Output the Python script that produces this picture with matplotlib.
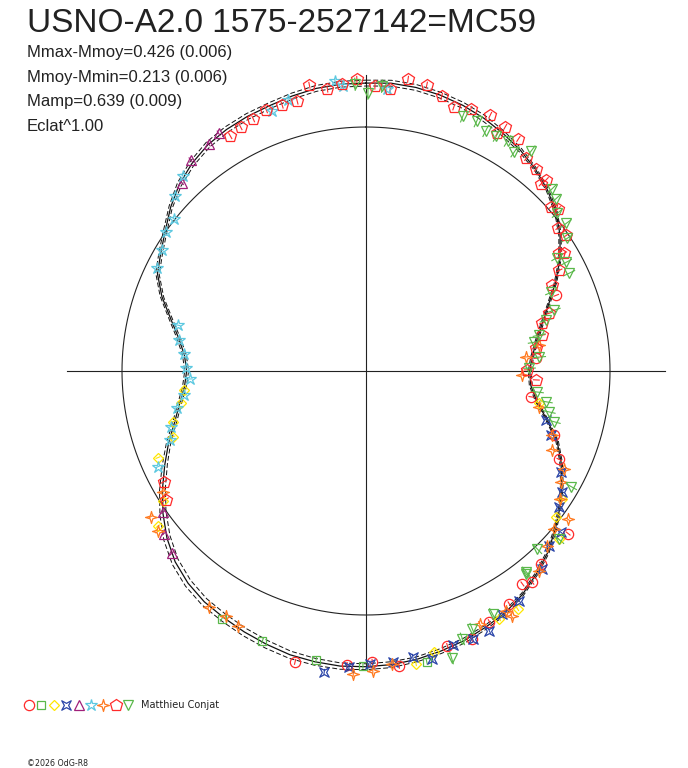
import numpy as np
import matplotlib
matplotlib.use("Agg")
import matplotlib.pyplot as plt
from matplotlib.path import Path

# ---------------- data ----------------
title = "USNO-A2.0 1575-2527142=MC59"
stats = ["Mmax-Mmoy=0.426 (0.006)", "Mmoy-Mmin=0.213 (0.006)",
         "Mamp=0.639 (0.009)", "Eclat^1.00"]
observer = "Matthieu Conjat"
footer = "\u00a92026 OdG-R8"

# fitted curve: phase (deg, clockwise from top) and relative brightness
curve_phase = list(range(0, 360, 5))
curve_flux = [1.180, 1.184, 1.180, 1.171, 1.159, 1.143, 1.124, 1.104, 1.080, 1.051,
              1.016, 0.971, 0.918, 0.857, 0.796, 0.747, 0.710, 0.684, 0.671, 0.678,
              0.710, 0.767, 0.833, 0.882, 0.927, 0.971, 1.012, 1.053, 1.086, 1.118,
              1.143, 1.159, 1.176, 1.188, 1.200, 1.208, 1.212, 1.214, 1.210, 1.204,
              1.192, 1.180, 1.167, 1.155, 1.135, 1.106, 1.065, 1.016, 0.963, 0.910,
              0.861, 0.812, 0.776, 0.747, 0.735, 0.747, 0.780, 0.829, 0.890, 0.943,
              0.971, 1.004, 1.045, 1.082, 1.110, 1.131, 1.143, 1.151, 1.157, 1.167,
              1.176, 1.180]
curve_err = [0.012, 0.012, 0.012, 0.012, 0.012, 0.012, 0.010, 0.008,
             0.006, 0.006, 0.006, 0.006, 0.006, 0.006, 0.006, 0.006, 0.006, 0.006,
             0.006, 0.006, 0.006, 0.006, 0.006, 0.006, 0.006, 0.006, 0.006, 0.006,
             0.006, 0.006,
             0.008, 0.008, 0.010, 0.010, 0.010, 0.012,
             0.012, 0.013, 0.014, 0.015, 0.016, 0.016, 0.016, 0.016, 0.016, 0.016,
             0.016, 0.015,
             0.014, 0.012, 0.010, 0.009,
             0.008, 0.008, 0.008, 0.008, 0.008, 0.008, 0.008, 0.008, 0.008, 0.008,
             0.008,
             0.010, 0.011, 0.012, 0.012, 0.012, 0.012, 0.012, 0.012, 0.012]

circ_phase = [68.3, 85.7, 98.9, 108.7, 114.6, 128.8, 137.8, 143.7, 141.8, 148.4,
              153.8, 158.5, 163.5, 173.6, 178.8, 183.7, 193.7]
circ_flux = [0.839, 0.700, 0.686, 0.814, 0.871, 1.063, 1.069, 1.083, 1.102, 1.121,
             1.146, 1.180, 1.175, 1.216, 1.192, 1.207, 1.227]

sq_phase = [210.2, 201.0, 189.8, 180.6, 168.2]
sq_flux = [1.176, 1.185, 1.201, 1.208, 1.218]

dia_phase = [100.4, 123.2, 127.6, 131.1, 147.5, 151.7, 166.3, 170.3, 264.1, 260.2,
             255.3, 251.2, 247.4, 237.3, 233.3]
dia_flux = [0.722, 0.961, 0.984, 1.050, 1.156, 1.154, 1.185, 1.217, 0.751, 0.770,
            0.819, 0.836, 0.924, 0.989, 1.064]

blue_phase = [105.1, 109.0, 117.3, 121.6, 125.2, 129.6, 133.7, 138.3, 146.3, 150.7,
              154.6, 158.3, 162.4, 167.0, 170.7, 174.7, 179.2, 183.3, 187.9]
blue_flux = [0.765, 0.803, 0.900, 0.944, 0.969, 1.038, 1.039, 1.087, 1.133, 1.142,
             1.180, 1.182, 1.177, 1.211, 1.187, 1.197, 1.200, 1.214, 1.245]

triup_phase = [328.2, 325.3, 320.3, 315.6, 235.2, 231.2, 226.8]
triup_flux = [1.147, 1.132, 1.125, 1.080, 1.015, 1.063, 1.092]

star_phase = [340.2, 344.0, 353.9, 355.4, 4.2, 316.8, 312.5, 308.4, 304.7, 300.6,
              296.3, 283.7, 279.4, 275.3, 271.0, 267.4, 262.5, 259.0, 254.1, 250.7, 245.3]
star_flux = [1.132, 1.155, 1.194, 1.171, 1.158, 1.097, 1.063, 1.005, 0.998, 0.971,
             0.956, 0.794, 0.778, 0.750, 0.739, 0.723, 0.753, 0.790, 0.832, 0.852, 0.939]

orange_phase = [85.0, 91.5, 81.5, 101.7, 108.9, 112.9, 116.4, 119.7, 123.5, 126.3,
                130.1, 134.0, 139.1, 149.7, 149.3, 155.8, 174.9, 178.7, 182.4, 213.7,
                209.8, 206.6, 235.9, 232.4, 239.3]
orange_flux = [0.660, 0.641, 0.718, 0.725, 0.807, 0.829, 0.907, 0.921, 0.954, 1.028,
               1.008, 1.033, 1.085, 1.140, 1.168, 1.136, 1.205, 1.229, 1.242, 1.163,
               1.157, 1.168, 1.064, 1.077, 0.968]

pent_phase = [330.0, 332.8, 335.9, 339.1, 342.5, 345.7, 348.8, 352.2, 355.2, 358.2,
              1.8, 4.9, 8.2, 12.0, 15.4, 18.4, 21.8, 25.9, 29.7, 28.9, 33.3, 37.0,
              40.1, 43.3, 43.1, 48.4, 49.8, 53.3, 55.9, 58.5, 59.3, 62.5, 65.3, 72.5,
              74.8, 78.5, 82.3, 89.6, 93.0, 241.3, 237.3]
pent_flux = [1.112, 1.124, 1.131, 1.145, 1.142, 1.141, 1.194, 1.166, 1.180, 1.196,
             1.168, 1.159, 1.208, 1.198, 1.168, 1.140, 1.156, 1.166, 1.152, 1.114, 1.138,
             1.093, 1.083, 1.077, 1.051, 1.015, 1.031, 0.983, 0.991, 0.929, 0.944, 0.893,
             0.840, 0.787, 0.749, 0.737, 0.704, 0.661, 0.699, 0.944, 0.975]

tridn_phase = [357.8, 0.4, 3.2, 20.8, 23.9, 26.5, 29.0, 31.6, 34.1, 36.9, 45.6, 47.8,
               50.5, 53.6, 56.6, 59.3, 61.5, 64.3, 67.0, 72.1, 74.3, 78.3, 80.3, 85.4,
               89.0, 97.0, 99.7, 102.6, 105.1, 119.4, 131.1, 136.1, 141.4, 152.5, 141.7,
               157.6, 160.2, 163.4]
tridn_flux = [1.176, 1.139, 1.169, 1.117, 1.120, 1.099, 1.102, 1.107, 1.085, 1.128,
              1.068, 1.052, 1.015, 1.019, 0.987, 0.911, 0.933, 0.924, 0.825, 0.811,
              0.767, 0.725, 0.700, 0.713, 0.669, 0.707, 0.749, 0.769, 0.799, 0.965,
              1.050, 1.013, 1.054, 1.123, 1.061, 1.144, 1.167, 1.227]

# ---------------- markers ----------------
concave = Path([(1, 1), (0, 0.45), (-1, 1), (-0.45, 0), (-1, -1), (0, -0.45),
                (1, -1), (0.45, 0), (1, 1)],
               [Path.MOVETO] + [Path.LINETO] * 7 + [Path.CLOSEPOLY])
star4 = Path([(0, 1), (0.22, 0.22), (1, 0), (0.22, -0.22), (0, -1), (-0.22, -0.22),
              (-1, 0), (-0.22, 0.22), (0, 1)],
             [Path.MOVETO] + [Path.LINETO] * 7 + [Path.CLOSEPOLY])

series = [
    (circ_phase, circ_flux, 'o', 7.4, '#ff2a2a', 0.010),
    (sq_phase, sq_flux, 's', 6.0, '#5ab84a', 0.010),
    (dia_phase, dia_flux, 'D', 5.6, '#ffe600', 0.008),
    (blue_phase, blue_flux, concave, 6.8, '#2a44a8', 0.010),
    (triup_phase, triup_flux, '^', 7.8, '#a0207a', 0.010),
    (star_phase, star_flux, '*', 9.0, '#5cc8e0', 0.010),
    (orange_phase, orange_flux, star4, 8.6, '#ff7a20', 0.010),
    (pent_phase, pent_flux, 'p', 8.6, '#ff2a2a', 0.012),
    (tridn_phase, tridn_flux, 'v', 7.8, '#5ab84a', 0.025),
]

# ---------------- figure ----------------
W, H = 688, 768
cx, cy, S = 366.0, 371.0, 244.0
fig = plt.figure(figsize=(W / 100, H / 100), dpi=100)
ax = fig.add_axes([0, 0, 1, 1])
ax.set_xlim(-cx / S, (W - cx) / S)
ax.set_ylim((cy - H) / S, cy / S)
ax.set_aspect('equal')
ax.axis('off')


def xy(phase_deg, r):
    t = np.deg2rad(np.asarray(phase_deg, float))
    r = np.asarray(r, float)
    return r * np.sin(t), r * np.cos(t)


# axes cross and mean circle
ax.plot([-1.225, 1.225], [0, 0], color='#222222', lw=0.8, zorder=1)
ax.plot([0, 0], [-1.215, 1.215], color='#222222', lw=0.8, zorder=1)
tt = np.linspace(0, 360, 721)
ax.plot(*xy(tt, np.ones_like(tt)), color='#222222', lw=0.8, zorder=1)

# fitted curve with envelope
cp = list(curve_phase) + [curve_phase[0] + 360]
cf = np.array(list(curve_flux) + [curve_flux[0]])
ce = np.array(list(curve_err) + [curve_err[0]])
ax.plot(*xy(cp, cf), color='#111111', lw=0.9, zorder=2)
for sgn in (-1, 1):
    ax.plot(*xy(cp, cf + sgn * ce), color='#111111', lw=0.7,
            dashes=(5, 2.5), zorder=2)

# observations
for ph, fl, mk, ms, col, err in series:
    x, y = xy(ph, fl)
    x0, y0 = xy(ph, np.asarray(fl) - err)
    x1, y1 = xy(ph, np.asarray(fl) + err)
    for a, b, c, d in zip(x0, y0, x1, y1):
        ax.plot([a, c], [b, d], color=col, lw=0.8, zorder=3)
    ax.plot(x, y, linestyle='none', marker=mk, ms=ms, mfc='none', mec=col,
            mew=0.9, zorder=4)

# legend row
lx0, ldx, ly = 29, 12.4, 704.5
for i, (ph, fl, mk, ms, col, err) in enumerate(series):
    px = lx0 + i * ldx
    ax.plot((px - cx) / S, (cy - ly) / S, marker=mk, ms=ms, mfc='none', mec=col,
            mew=0.9, linestyle='none', clip_on=False)
fig.text(141 / W, 1 - 708 / H, observer, fontsize=7, family='DejaVu Sans',
         color='#222222', va='baseline', ha='left')

# texts
fig.text(27 / W, 1 - 32 / H, title, fontsize=24, family='Liberation Sans',
         color='#222222', va='baseline', ha='left')
for i, s in enumerate(stats):
    fig.text(27 / W, 1 - (57 + 24.7 * i) / H, s, fontsize=12,
             family='Liberation Sans', color='#222222', va='baseline', ha='left')
fig.text(27 / W, 1 - 766 / H, footer, fontsize=5.7, family='DejaVu Sans',
         color='#222222', va='baseline', ha='left')

fig.savefig('out.png', dpi=100, facecolor='white')
